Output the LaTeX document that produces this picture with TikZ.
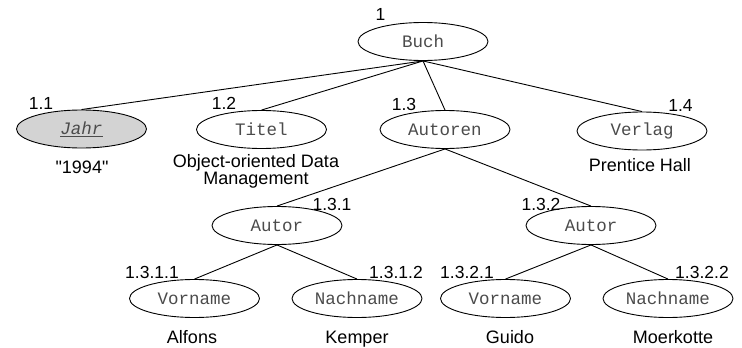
\documentclass[tikz,border=0pt]{standalone}
\usepackage{fontspec}
\setmainfont{Liberation Sans}[Ligatures=TeXOff]
\setmonofont{Liberation Mono}
\usetikzlibrary{shapes.geometric}
\definecolor{elgray}{RGB}{211,211,211}
\definecolor{mtext}{RGB}{75,75,75}
\begin{document}
\begin{tikzpicture}[x=1pt,y=-1pt,
  el/.style={ellipse,draw,line width=0.9pt,minimum width=130pt,minimum height=38pt,inner sep=0pt,
    font=\fontsize{17.5}{19}\ttfamily,text=mtext},
  key/.style={el,fill=elgray},
  num/.style={font=\fontsize{17.5}{19}\selectfont,inner sep=0pt,anchor=base},
  val/.style={font=\fontsize{18}{17}\selectfont,inner sep=0pt,anchor=base,align=center},
  edge/.style={line width=0.9pt}]
\useasboundingbox (0,0) rectangle (742,348);
% ellipses
\node[el] (buch) at (423,41.5) {Buch};
\node[key] (jahr) at (81.5,129) {\underline{\itshape Jahr}};
\node[el] (titel) at (261.5,129.5) {Titel};
\node[el] (autoren) at (445,129.5) {Autoren};
\node[el] (verlag) at (642,131) {Verlag};
\node[el] (autor1) at (277,225.5) {Autor};
\node[el] (autor2) at (591,225.5) {Autor};
\node[el] (vn1) at (194.5,298.5) {Vorname};
\node[el] (nn1) at (357,298.5) {Nachname};
\node[el] (vn2) at (505.5,298.5) {Vorname};
\node[el] (nn2) at (668,298.5) {Nachname};
% edges
\draw[edge] (buch.south) -- (jahr.north);
\draw[edge] (buch.south) -- (titel.north);
\draw[edge] (buch.south) -- (autoren.north);
\draw[edge] (buch.south) -- (verlag.north);
\draw[edge] (autoren.south) -- (autor1.north);
\draw[edge] (autoren.south) -- (autor2.north);
\draw[edge] (autor1.south) -- (vn1.north);
\draw[edge] (autor1.south) -- (nn1.north);
\draw[edge] (autor2.south) -- (vn2.north);
\draw[edge] (autor2.south) -- (nn2.north);
% numbers
\node[num] (n1) at (380.5,20) {1};
\node[num] (n11) at (41,109) {1.1};
\node[num] (n12) at (224,109) {1.2};
\node[num] (n13) at (404,110) {1.3};
\node[num] (n14) at (680.5,111) {1.4};
\node[num] (n131) at (332,210) {1.3.1};
\node[num] (n132) at (541,210) {1.3.2};
\node[num] (n1311) at (152,278) {1.3.1.1};
\node[num] (n1312) at (396,278) {1.3.1.2};
\node[num] (n1321) at (467,278) {1.3.2.1};
\node[num] (n1322) at (702,278) {1.3.2.2};
% values
\node[val] (v1) at (82,173) {"1994"};
\node[val] (v2) at (256,167) {Object-oriented Data};
\node[val] (v2b) at (256,184) {Management};
\node[val] (v3) at (640,171) {Prentice Hall};
\node[val] (v4) at (192,343) {Alfons};
\node[val] (v5) at (357,343) {Kemper};
\node[val] (v6) at (510,343) {Guido};
\node[val] (v7) at (673,343) {Moerkotte};
\end{tikzpicture}
\end{document}
